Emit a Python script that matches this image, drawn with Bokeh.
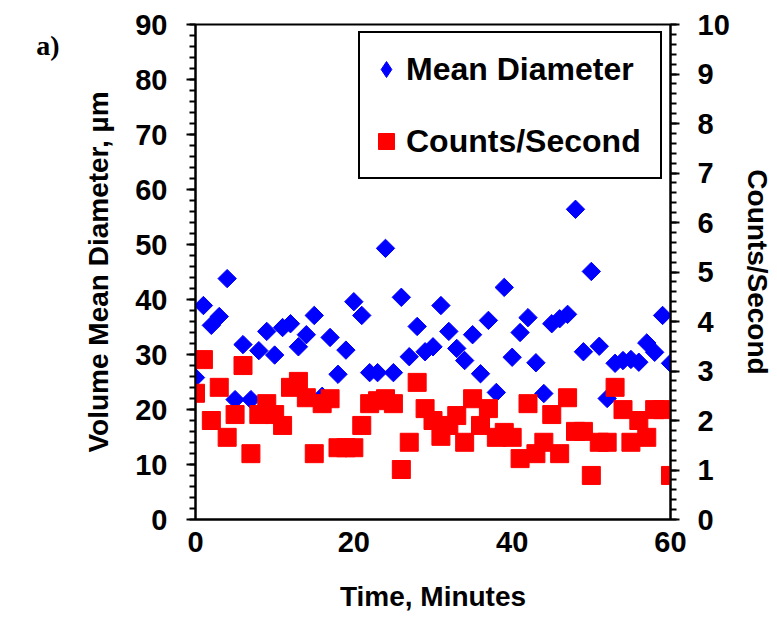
import math
from bokeh.plotting import figure
from bokeh.models import Range1d, LinearAxis, Legend, LegendItem, FixedTicker
from bokeh.embed import file_html
from bokeh.resources import INLINE

# ---- data ----
minutes = list(range(61))
mean_diameter = [
    25.8, 38.9, 35.3, 36.9, 43.8, 21.8, 31.8, 21.8, 30.7, 34.2,
    29.9, 34.9, 35.6, 31.4, 33.6, 37.1, 22.4, 33.1, 26.4, 30.8,
    39.6, 37.1, 26.7, 26.7, 49.3, 26.7, 40.4, 29.6, 35.1, 30.5,
    31.4, 38.9, 34.2, 31.1, 28.9, 33.6, 26.5, 36.2, 23.1, 42.2,
    29.5, 34.0, 36.7, 28.5, 22.9, 35.6, 36.5, 37.3, 56.4, 30.5,
    45.1, 31.5, 22.0, 28.4, 28.9, 29.1, 28.6, 32.1, 30.4, 37.1,
    28.4,
]
counts_per_second = [
    2.55, 3.23, 2.00, 2.67, 1.66, 2.12, 3.11, 1.33, 2.12, 2.34,
    2.12, 1.90, 2.67, 2.79, 2.46, 1.33, 2.34, 2.44, 1.45, 1.45,
    1.45, 1.90, 2.34, 2.40, 2.44, 2.34, 1.01, 1.56, 2.77, 2.24,
    2.00, 1.68, 1.90, 2.10, 1.56, 2.44, 1.90, 2.24, 1.66, 1.76,
    1.66, 1.23, 2.34, 1.33, 1.56, 2.12, 1.33, 2.46, 1.78, 1.78,
    0.89, 1.56, 1.56, 2.67, 2.22, 1.56, 2.00, 1.66, 2.22, 2.22,
    0.89,
]
x_ticks = [0, 20, 40, 60]
left_ticks = list(range(0, 91, 10))
left_minor = list(range(0, 91, 2))
right_ticks = list(range(0, 11))
right_minor = [round(i * 0.2, 1) for i in range(51)]
panel_tag = "a)"

FONT = "Liberation Sans"
X_MIN, X_MAX = 0, 60
FRAME_W, FRAME_H = 475, 495

p = figure(frame_width=FRAME_W, frame_height=FRAME_H,
           x_range=Range1d(X_MIN, X_MAX), y_range=Range1d(0, 90),
           output_backend="svg", toolbar_location=None,
           min_border_left=195, min_border_right=105,
           min_border_top=24, min_border_bottom=98,
           background_fill_color="white", border_fill_color="white")
p.extra_y_ranges = {"counts": Range1d(0, 10), "tag": Range1d(0, FRAME_H)}
p.xgrid.visible = False
p.ygrid.visible = False
p.outline_line_color = "black"
p.outline_line_width = 2
p.outline_line_alpha = 1


def style_axis(ax, size="29px"):
    ax.axis_line_color = "black"
    ax.axis_line_width = 2
    ax.major_tick_line_color = "black"
    ax.minor_tick_line_color = "black"
    ax.major_tick_line_width = 2
    ax.minor_tick_line_width = 2
    ax.major_tick_in = 0
    ax.major_tick_out = 0
    ax.minor_tick_in = 0
    ax.minor_tick_out = 0
    ax.major_label_text_font = FONT
    ax.major_label_text_font_style = "bold"
    ax.major_label_text_font_size = size
    ax.major_label_text_color = "black"
    ax.axis_label_text_font = FONT
    ax.axis_label_text_font_style = "bold"
    ax.axis_label_text_font_size = "28px"
    ax.axis_label_text_color = "black"


# left axis (tick marks on the axis line)
ly = p.yaxis[0]
style_axis(ly)
ly.ticker = FixedTicker(ticks=left_ticks, minor_ticks=left_minor)
ly.major_tick_out = 9
ly.minor_tick_out = 6
ly.major_label_standoff = 19
ly.axis_label = "Volume Mean Diameter, µm"
ly.axis_label_standoff = 18

# bottom axis
bx = p.xaxis[0]
style_axis(bx)
bx.ticker = FixedTicker(ticks=x_ticks)
bx.major_label_standoff = 12
bx.axis_label = "Time, Minutes"
bx.axis_label_standoff = 26

# right axis
ry = LinearAxis(y_range_name="counts")
style_axis(ry)
ry.ticker = FixedTicker(ticks=right_ticks, minor_ticks=right_minor)
ry.major_tick_out = 9
ry.minor_tick_out = 6
ry.major_label_standoff = 18
ry.axis_label = "Counts/Second"
ry.axis_label_standoff = 9
p.add_layout(ry, "right")

# panel tag "a)": a label-only axis, outermost on the left, its single
# tick placed near the top of the frame
TAG_Y = 474
tag_axis = LinearAxis(y_range_name="tag", ticker=FixedTicker(ticks=[TAG_Y]),
                      major_label_overrides={TAG_Y: panel_tag})
tag_axis.axis_line_color = None
tag_axis.major_tick_line_color = None
tag_axis.minor_tick_line_color = None
tag_axis.major_tick_in = 0
tag_axis.major_tick_out = 0
tag_axis.minor_tick_in = 0
tag_axis.minor_tick_out = 0
tag_axis.major_label_standoff = 21
tag_axis.major_label_text_font = "Liberation Serif"
tag_axis.major_label_text_font_style = "bold"
tag_axis.major_label_text_font_size = "28px"
tag_axis.major_label_text_color = "black"
p.add_layout(tag_axis, "left")

# data
r_blue = p.scatter(minutes, mean_diameter, marker="square", size=13,
                   angle=math.pi / 4, fill_color="#0000FF", line_color="#0000FF")
r_red = p.scatter(minutes, counts_per_second, marker="square", size=18,
                  fill_color="#FF0000", line_color="#FF0000",
                  y_range_name="counts")

# legend swatches (no visible points; only used by the legend)
nan = float("nan")
key_blue = p.scatter([nan], [nan], marker="diamond",
                     fill_color="#0000FF", line_color="#0000FF")
key_red = p.scatter([nan], [nan], marker="square",
                    fill_color="#FF0000", line_color="#FF0000")

legend = Legend(items=[LegendItem(label="Mean Diameter", renderers=[key_blue]),
                       LegendItem(label="Counts/Second", renderers=[key_red])],
                location=(163, 340), margin=0, padding=6, spacing=12,
                glyph_width=40, glyph_height=60, label_height=60,
                label_width=248, label_standoff=0,
                label_text_font=FONT, label_text_font_style="bold",
                label_text_font_size="32px", label_text_color="black",
                border_line_color="black", border_line_width=2,
                border_line_alpha=1,
                background_fill_color="white", background_fill_alpha=1)
p.add_layout(legend)

open("out.html", "w").write(file_html(p, INLINE))
